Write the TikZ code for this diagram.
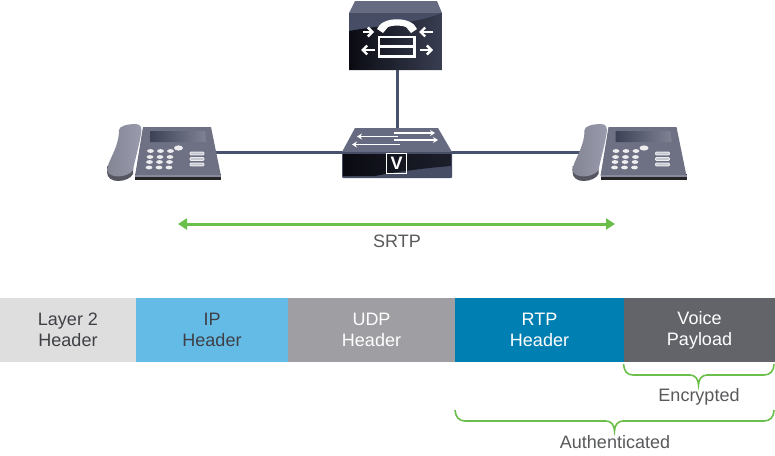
\documentclass[tikz,border=0pt]{standalone}
\usepackage{fontspec}
\setmainfont{Liberation Sans}
\usetikzlibrary{arrows.meta}
\definecolor{wire}{HTML}{47536C}
\definecolor{grn}{HTML}{6ABF4B}
\definecolor{txt}{HTML}{58595B}
\definecolor{txtd}{HTML}{3F4045}
\definecolor{devA}{HTML}{474D65}
\definecolor{devB}{HTML}{0A0B12}
\definecolor{devTop}{HTML}{666B82}
\definecolor{phTop}{HTML}{6E7084}
\definecolor{phHand}{HTML}{9A9CAE}
\definecolor{keyc}{HTML}{EDEDF0}
\tikzset{
 seg/.style={minimum height=64pt,inner sep=0pt,outer sep=0pt,anchor=north west,align=center,font=\fontsize{18}{21}\selectfont},
 lab/.style={text=txt,inner sep=0pt,font=\fontsize{18}{21}\selectfont},
 wireline/.style={draw=wire,line width=3pt},
 bracket/.style={draw=grn,line width=1.6pt},
 devarrow/.style={draw=white,line width=2.4pt,-{Straight Barb[length=4.5pt,width=9pt,line width=2.4pt]}},
 swarrow/.style={draw=white,line width=1.3pt,-{Stealth[length=5pt,width=6pt]}},
}
\newcommand{\phone}[1]{%
 \begin{scope}[shift={(#1,0)}]
  \fill[phHand!55!black] (107,172) .. controls (107,178) and (112,181) .. (118,181) .. controls (125,181) and (131,178) .. (133,174) -- (133,168) -- (107,166) -- cycle;
  \shade[left color=phHand!85!black,right color=phHand] (107,170) .. controls (108,160) and (119,148) .. (119,130) .. controls (119,126) and (128,124) .. (135,124) .. controls (141,124) and (142,127) .. (141,134) .. controls (139,146) and (135,160) .. (133,170) .. controls (128,178) and (108,179) .. (107,170) -- cycle;
  \fill[black!85] (135,174) -- (221,174) -- (221,180) -- (135,180) -- cycle;
  \fill[phTop] (143,127) -- (211,127) -- (221,176) -- (135,176) -- cycle;
  \fill[phHand!60!phTop] (135,175) -- (221,175) -- (221,176.5) -- (135,176.5) -- cycle;
  \shade[left color=devA!85!black,right color=devA!70!white] (150,131) -- (205,131) -- (206,142) -- (150,142) -- cycle;
  \fill[keyc] (178.5,148) ellipse (4.5 and 2.6);
  \foreach \yy/\dx in {151/0,157/-0.5,162/-1,167.5/-1.5}
   \foreach \xx in {150.5,160.5,170.5}
    \fill[keyc] (\xx+\dx,\yy) ellipse (3.4 and 1.9);
  \foreach \yy in {153.5,159,164.5}
   \filldraw[draw=keyc,fill=phHand!60!white,line width=0.9pt,rounded corners=1pt] (190,\yy-1.4) rectangle (204,\yy+1.4);
 \end{scope}}
\begin{document}
\begin{tikzpicture}[x=1pt,y=-1pt]
\useasboundingbox (0,0) rectangle (775,455);
\coordinate (phoneL) at (216,152);
\coordinate (phoneR) at (581,152);
\coordinate (switch) at (397,152);
\coordinate (server) at (397,60);
\draw[wireline] (server) -- (switch);
\draw[wireline] (phoneL) -- (switch);
\draw[wireline] (switch) -- (phoneR);
\phone{0}
\phone{465.5}
% call manager
\fill[devTop] (355,1) -- (437,1) -- (442,13) -- (349,13) -- cycle;
\fill[devA] (349,13) rectangle (442,70);
\shade[left color=devB,right color=devA!80!black] (349,31) .. controls (375,26) and (415,24) .. (442,13) -- (442,70) -- (349,70) -- cycle;
\begin{scope}[white]
 \draw[line width=2.6pt] (379,37) rectangle (414.5,56.5);
 \draw[line width=3pt] (379,46) -- (414.5,46);
 \fill (377,29) .. controls (382,16) and (412,16) .. (417,29) -- (411,33) -- (406,27) .. controls (401,25) and (393,25) .. (388,27) -- (383,33) -- cycle;
 \draw[devarrow] (363,32) -- (374,32);
 \draw[devarrow] (433,32) -- (419,32);
 \draw[devarrow] (375,50) -- (361,50);
 \draw[devarrow] (420,50) -- (433,50);
\end{scope}
% switch
\fill[devTop] (355,128) -- (438,128) -- (452,152) -- (342,152) -- cycle;
\fill[rounded corners=1pt,devA] (342,152) -- (452,152) -- (452,178) -- (342,178) -- cycle;
\shade[left color=devB,right color=devB!70!devA] (343,154) -- (451,154) -- (451,166) .. controls (425,168) and (395,172) .. (375,176) -- (343,176) -- cycle;
\draw[swarrow] (394,133) -- (435,133);
\draw[swarrow] (398,136.5) -- (357,136.5);
\draw[swarrow] (394,140) -- (438,140);
\draw[swarrow] (400,144.5) -- (352,144.5);
\node[draw=white,line width=1.3pt,minimum size=20pt,inner sep=0pt,text=white,font=\bfseries\fontsize{18}{18}\selectfont] (vbox) at (396.5,163.5) {V};
% SRTP arrow
\coordinate (srtpL) at (178,224);
\coordinate (srtpR) at (615,224);
\draw[draw=grn,line width=3pt,{Triangle[length=9pt,width=11pt]}-{Triangle[length=9pt,width=11pt]}] (srtpL) -- (srtpR);
\node[lab] (srtp) at (397,241) {SRTP};
% packet
\node[seg,fill=black!13,text=txtd,minimum width=136pt] (l2) at (0,298) {Layer 2\\Header};
\node[seg,fill={rgb,255:red,99;green,187;blue,230},text=txtd,minimum width=152pt] (ip) at (136,298) {IP\\Header};
\node[seg,fill={rgb,255:red,158;green,158;blue,163},text=white,minimum width=167pt] (udp) at (288,298) {UDP\\Header};
\node[seg,fill={rgb,255:red,0;green,127;blue,178},text=white,minimum width=169pt] (rtp) at (455,298) {RTP\\Header};
\node[seg,fill={rgb,255:red,98;green,100;blue,105},text=white,minimum width=151pt] (voice) at (624,298) {Voice\\Payload};
% braces
\coordinate (encA) at (623.5,364);
\coordinate (encB) at (774,364);
\coordinate (autA) at (455,410);
\coordinate (autB) at (774,410);
\draw[bracket] (encA) .. controls (624,371) and (627,375) .. (633,375) -- (690,375) .. controls (695,375) and (698.5,379) .. (698.5,385) .. controls (698.5,379) and (702,375) .. (707,375) -- (764,375) .. controls (770,375) and (774,371) .. (encB);
\draw[bracket] (autA) .. controls (455.5,417) and (459,421) .. (465,421) -- (606,421) .. controls (611,421) and (614.5,425) .. (614.5,431) .. controls (614.5,425) and (618,421) .. (623,421) -- (764,421) .. controls (770,421) and (774,417) .. (autB);
\node[lab] (enc) at (699,397) {Encrypted};
\node[lab] (auth) at (615,442) {Authenticated};
\end{tikzpicture}
\end{document}
